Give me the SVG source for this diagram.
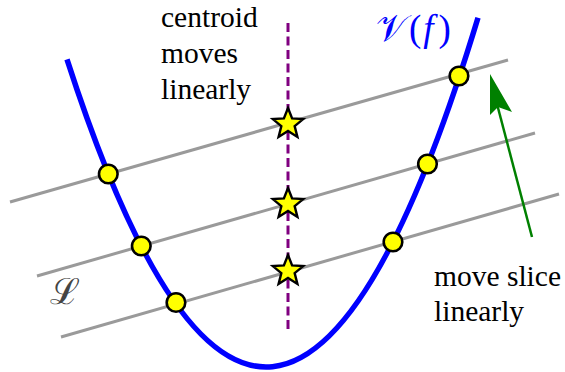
<svg xmlns="http://www.w3.org/2000/svg" xmlns:xlink="http://www.w3.org/1999/xlink" width="565" height="372" viewBox="0 0 565 372">
<style>
.slice{stroke:#9a9a9a;stroke-width:3;fill:none}
.curve{stroke:#0000ff;stroke-width:5.5;fill:none}
.cent{stroke:#800080;stroke-width:3;stroke-dasharray:9 4.5;fill:none}
.pt{fill:#ffff00;stroke:#000;stroke-width:2.6}
.star{fill:#ffff00;stroke:#000;stroke-width:2.4;stroke-linejoin:miter}
.lbl{font-family:'Liberation Serif','Tinos','Times New Roman','DejaVu Serif',serif;font-size:29.5px;fill:#000}
.math{font-family:'Liberation Serif','DejaVu Serif',serif;fill:#0000ff}
.arrow{stroke:#008000;stroke-width:2.5;fill:none}
</style>
<defs>
<polygon id="starShape" points="0,-16 4.11,-5.66 15.22,-4.94 6.66,2.16 9.40,12.94 0,7 -9.40,12.94 -6.66,2.16 -15.22,-4.94 -4.11,-5.66"/>
</defs>
<g id="connectors">
<line class="slice" x1="10" y1="202" x2="508" y2="60"/>
<line class="slice" x1="37" y1="276" x2="535" y2="133"/>
<line class="slice" x1="61" y1="337" x2="559" y2="194"/>
<path class="curve" d="M67,59.3 Q272.5,694.8 478,17.8"/>
<line class="cent" x1="288" y1="23" x2="288" y2="332"/>
<line class="arrow" x1="532" y1="237" x2="497" y2="104"/>
<polygon fill="#008000" points="490,74 512,112 498,107 490,115"/>
</g>
<g id="points">
<circle class="pt" cx="108.3" cy="174" r="9.3"/>
<circle class="pt" cx="141.3" cy="246" r="9.3"/>
<circle class="pt" cx="176" cy="302.5" r="9.3"/>
<circle class="pt" cx="459" cy="76" r="9.3"/>
<circle class="pt" cx="427.5" cy="164" r="9.3"/>
<circle class="pt" cx="393" cy="242" r="9.3"/>
</g>
<g id="centroids">
<use xlink:href="#starShape" class="star" x="288" y="124"/>
<use xlink:href="#starShape" class="star" x="288" y="204"/>
<use xlink:href="#starShape" class="star" x="288" y="271"/>
</g>
<g id="label-centroid">
<text class="lbl" x="161" y="27">centroid</text>
<text class="lbl" x="161" y="63">moves</text>
<text class="lbl" x="161" y="99">linearly</text>
</g>
<g id="label-move">
<text class="lbl" x="434" y="286">move slice</text>
<text class="lbl" x="434" y="321">linearly</text>
</g>
<g id="label-V">
<text class="math" x="376" y="41" font-size="37"><tspan font-family="'DejaVu Serif','Liberation Serif',serif">𝒱</tspan><tspan dx="2">(</tspan><tspan dx="2" font-style="italic">f</tspan><tspan dx="5">)</tspan></text>
</g>
<g id="label-L">
<text x="50" y="304" font-family="'DejaVu Serif','Liberation Serif',serif" font-size="36" fill="#444">ℒ</text>
</g>
</svg>
